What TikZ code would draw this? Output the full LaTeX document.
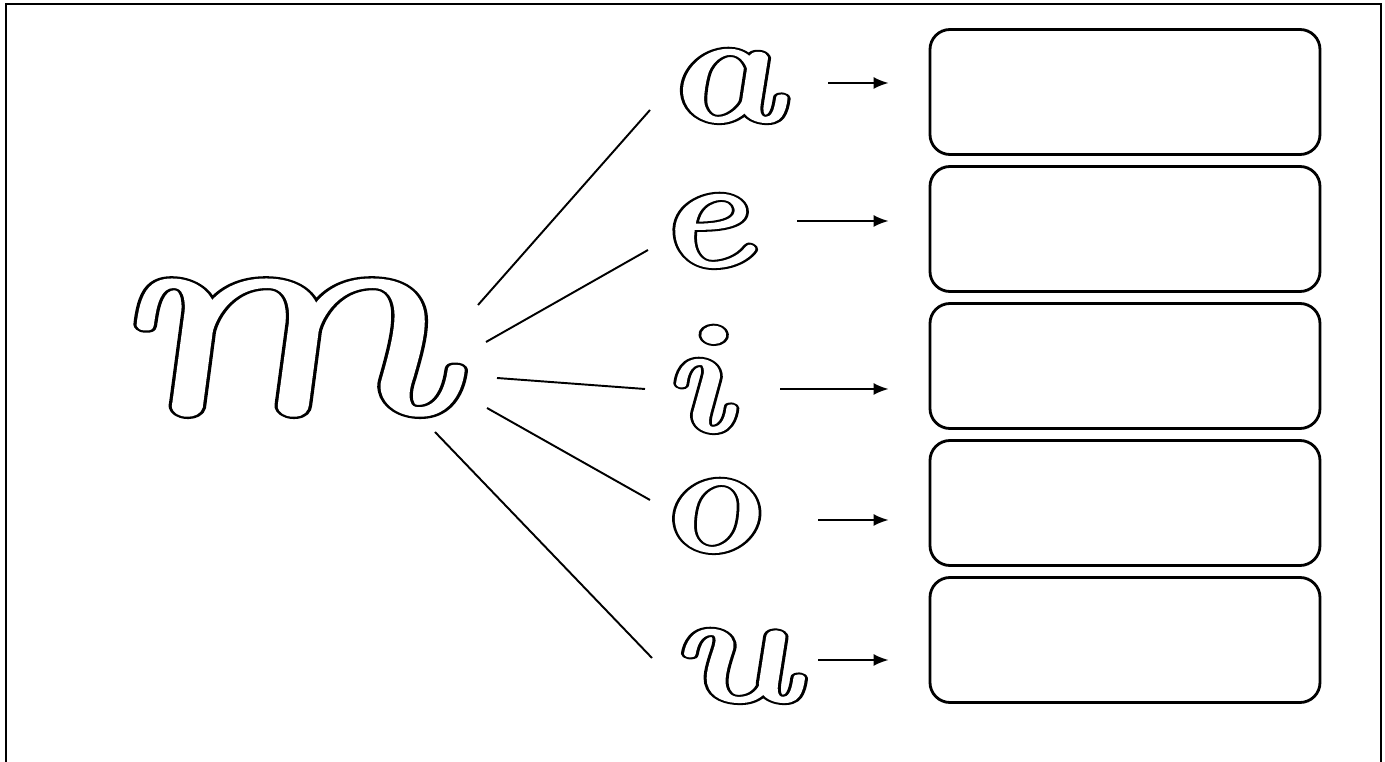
\documentclass[tikz,border=0pt]{standalone}
\usetikzlibrary{arrows.meta,calc}
% hollow school letters: black rim (stroke only), white body (fill and stroke)
\newcommand\hollow[3]{\makebox[0pt][l]{\special{pdf:literal direct 1 j 1 J #1 w 1 Tr}#3\special{pdf:literal direct 0 Tr}}{\color{white}\special{pdf:literal direct 1 j 1 J #2 w 2 Tr}#3\special{pdf:literal direct 0 Tr}}}

\begin{document}
\begin{tikzpicture}[
    letter/.style={inner sep=0pt, anchor=base west, xslant=-0.22, xscale=1.35},
    answer/.style={draw, line width=1.6pt, rounded corners=0.4cm, minimum width=7.8cm, minimum height=2.5cm},
    link/.style={line width=1.1pt},
    arr/.style={-{Latex[length=0.3cm,width=0.24cm]}, line width=1.1pt, shorten >=0.8cm}]
			%%%%% START %%%%%
			\useasboundingbox (0, 0) rectangle (27.7, 15.24);
			\draw[line width=1.3pt] (0.12, 0) -- (0.12, 15.16) -- (27.62, 15.16) -- (27.62, 0);
			
			\node[letter, xscale=1.05] (m) at (2.45, 7.0) {\fontsize{170}{170}\selectfont\itshape\hollow{4.6}{2.0}{m}};
			
			\node[letter, xscale=1.12] (a) at (13.34, 12.84) {\fontsize{90}{90}\selectfont\itshape\hollow{4.0}{1.7}{a}};
			\node[letter] (e) at (13.18, 9.94) {\fontsize{90}{90}\selectfont\itshape\hollow{4.0}{1.7}{e}};
			\node[letter] (i) at (13.4, 6.64) {\fontsize{90}{90}\selectfont\itshape\hollow{4.0}{1.7}{i}};
			\node[letter] (o) at (13.18, 4.24) {\fontsize{90}{90}\selectfont\itshape\hollow{4.0}{1.7}{o}};
			\node[letter, xscale=1.12] (u) at (13.52, 1.24) {\fontsize{90}{90}\selectfont\itshape\hollow{4.0}{1.7}{u}};
			
			\node[answer] (boxa) at (22.5, 13.4) {};
			\node[answer] (boxe) at (22.5, 10.66) {};
			\node[answer] (boxi) at (22.5, 7.92) {};
			\node[answer] (boxo) at (22.5, 5.18) {};
			\node[answer] (boxu) at (22.5, 2.44) {};
			
			% ends of the spokes
			\coordinate (ma) at (9.56, 9.14);  \coordinate (ea) at (13.0, 13.04);
			\coordinate (me) at (9.72, 8.4);   \coordinate (ee) at (12.96, 10.24);
			\coordinate (mi) at (9.94, 7.68);  \coordinate (ei) at (12.9, 7.46);
			\coordinate (mo) at (9.74, 7.08);  \coordinate (eo) at (13.0, 5.24);
			\coordinate (mu) at (8.7, 6.6);    \coordinate (eu) at (13.04, 2.08);
			
			\draw[link] (ma) -- (ea);
			\draw[link] (me) -- (ee);
			\draw[link] (mi) -- (ei);
			\draw[link] (mo) -- (eo);
			\draw[link] (mu) -- (eu);
			
			% arrow tails
			\coordinate (ta) at (16.56, 13.58);
			\coordinate (te) at (15.94, 10.82);
			\coordinate (ti) at (15.6, 7.46);
			\coordinate (to) at (16.36, 4.84);
			\coordinate (tu) at (16.36, 2.04);
			
			\draw[arr] (ta) -- (ta -| boxa.west);
			\draw[arr] (te) -- (te -| boxe.west);
			\draw[arr] (ti) -- (ti -| boxi.west);
			\draw[arr] (to) -- (to -| boxo.west);
			\draw[arr] (tu) -- (tu -| boxu.west);
			%%%%% END %%%%%
\end{tikzpicture}
\end{document}
